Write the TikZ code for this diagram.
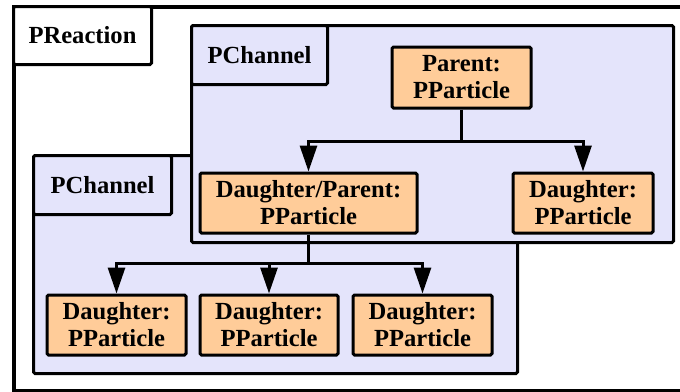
\documentclass[tikz,border=0pt]{standalone}
\usepackage{fontspec}
\setmainfont{Liberation Serif}[BoldFont={Liberation Serif Bold}]
\usetikzlibrary{arrows.meta}
\definecolor{chanfill}{HTML}{E4E4FB}
\definecolor{partfill}{HTML}{FFCC99}
\begin{document}
\begin{tikzpicture}[x=1pt,y=-1pt,
  txt/.style={font=\fontsize{24.6}{27}\selectfont\bfseries},
  frame/.style={draw=black, line width=4pt, inner sep=0pt},
  chanbox/.style={draw=black, line width=3pt, fill=chanfill, rounded corners=1.5pt, inner sep=0pt},
  labelbox/.style={txt, draw=black, line width=3pt, rounded corners=1.5pt, inner sep=0pt},
  partbox/.style={txt, draw=black, line width=3pt, fill=partfill, rounded corners=1.5pt, inner sep=0pt, align=center},
  conn/.style={line width=3pt},
  arr/.style={line width=3pt, -{Triangle[length=26pt,width=17pt]}},
]
\useasboundingbox (0,0) rectangle (680,391);
\clip (0,0) rectangle (680,391);
\fill[white] (0,0) rectangle (680,391);
% outer reaction frame
\node[frame, minimum width=700pt, minimum height=384pt, anchor=north west] (reaction) at (12,5) {};
\node[labelbox, fill=white, minimum width=138pt, minimum height=58pt, anchor=north west] (reactionlbl) at (12,5) {PReaction};
% lower channel
\node[chanbox, minimum width=484pt, minimum height=218pt, anchor=north west] (ch2) at (32,154) {};
\node[labelbox, fill=chanfill, minimum width=138pt, minimum height=59pt, anchor=north west] (ch2lbl) at (32,154) {PChannel};
% upper channel
\node[chanbox, minimum width=482pt, minimum height=217pt, anchor=north west] (ch1) at (190,24) {};
\node[labelbox, fill=chanfill, minimum width=136pt, minimum height=59pt, anchor=north west] (ch1lbl) at (190,24) {PChannel};
% particles
\node[partbox, minimum width=139pt, minimum height=61pt] (parent) at (461.5,77.5) {Parent:\\PParticle};
\node[partbox, minimum width=217pt, minimum height=60pt] (dp) at (308.5,203) {Daughter/Parent:\\PParticle};
\node[partbox, minimum width=140pt, minimum height=60pt] (d1) at (583,203) {Daughter:\\PParticle};
\node[partbox, minimum width=139pt, minimum height=60pt] (b1) at (116.5,325) {Daughter:\\PParticle};
\node[partbox, minimum width=138pt, minimum height=60pt] (b2) at (269,325) {Daughter:\\PParticle};
\node[partbox, minimum width=139pt, minimum height=60pt] (b3) at (422.5,325) {Daughter:\\PParticle};
% connectors
\coordinate (j1) at (461.5,141);
\coordinate (j2) at (308.5,263);
\draw[conn] (parent.south) -- (j1);
\draw[arr] (j1) -| (dp.north);
\draw[arr] (j1) -| (d1.north);
\draw[conn] (dp.south) -- (j2);
\draw[arr] (j2) -| (b1.north);
\draw[arr] (j2) -| (b2.north);
\draw[arr] (j2) -| (b3.north);
\end{tikzpicture}
\end{document}
